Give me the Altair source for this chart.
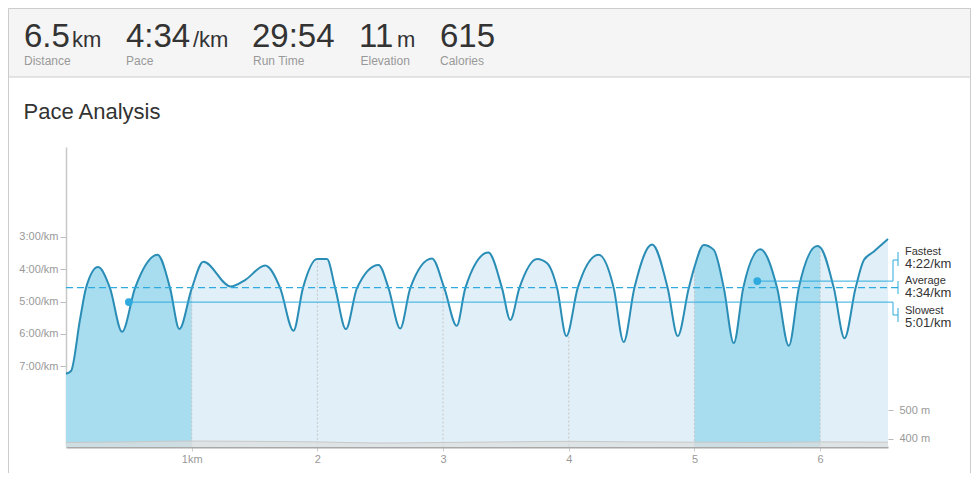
import altair as alt
import pandas as pd

# ---------------- data ----------------
# pace profile: distance (km) and pace (seconds per km)
dist_km = [0, 0.04, 0.111, 0.159, 0.255, 0.35, 0.446, 0.549, 0.728, 0.828, 0.902, 1.0,
           1.093, 1.311, 1.425, 1.584, 1.704, 1.81, 1.885, 1.998, 2.076, 2.142, 2.227,
           2.315, 2.487, 2.566, 2.659, 2.739, 2.912, 3.01, 3.109, 3.177, 3.36, 3.469,
           3.535, 3.607, 3.748, 3.828, 3.907, 3.981, 4.071, 4.238, 4.358, 4.437, 4.522,
           4.663, 4.787, 4.867, 4.955, 5.0, 5.074, 5.154, 5.234, 5.313, 5.388, 5.525,
           5.658, 5.751, 5.83, 5.977, 6.0, 6.109, 6.194, 6.282, 6.348, 6.428, 6.54]
pace_s = [434, 429, 334, 275, 236, 275, 356, 275, 213, 275, 351, 276,
          226, 272, 260, 233, 275, 354, 275, 221, 221, 275, 351,
          275, 232, 275, 350, 275, 220, 275, 345, 275, 209, 275,
          334, 275, 221, 229, 275, 364, 275, 213, 275, 375, 275,
          194, 275, 364, 275, 236, 195, 204, 275, 377, 275, 203,
          275, 382, 275, 197, 199, 275, 368, 275, 223, 207, 184]

# elevation profile (m)
elev_km = [0, 0.5, 1, 1.5, 2, 2.5, 3, 3.5, 4, 4.5, 5, 5.5, 6, 6.54]
elev_m = [388, 390, 393, 392, 390, 386, 388, 390, 392, 390, 389, 388, 390, 389]

# highlighted km splits (slowest = km 1, fastest = km 6)
hi_start = [0, 5]
hi_end = [1, 6]

# km markers and pace at each marker
grid_km = [1, 2, 3, 4, 5, 6]
grid_pace = [276, 226, 270, 365, 236, 199]

# summary pace lines
stat_names = ["Fastest", "Average", "Slowest"]
stat_pace = [262, 274, 301]
stat_km = [5.5, 0.0, 0.5]

# header
header_values = ["6.5", "4:34", "29:54", "11", "615"]
header_units = ["km", "/km", "", "m", ""]
header_labels = ["Distance", "Pace", "Run Time", "Elevation", "Calories"]
title_text = "Pace Analysis"

# ---------------- style / layout ----------------
FONT = "Liberation Sans, Arial, Helvetica, sans-serif"
W, H = 822, 300
LIGHT = "#e1f0f8"
DARK = "#a8dcef"
LINE = "#2a8db6"
ACCENT = "#2eaade"
TXT = "#333333"
GREY_TXT = "#999999"
PACE_MIN, PACE_MAX = 13, 570
ELEV_MIN, ELEV_MAX = 372.4, 1407

hx_val = [-42, 60, 186, 293, 374]
hx_unit = [6, 127, None, 331, None]
hx_lab = [-42, 60, 187, 294.5, 374]

df = pd.DataFrame({"km": dist_km, "pace": pace_s})
df_elev = pd.DataFrame({"km": elev_km, "elev": elev_m})
df_grid = pd.DataFrame({"km": grid_km, "pace": grid_pace})
df_stat = pd.DataFrame({"name": stat_names, "pace": stat_pace, "km": stat_km})
one = pd.DataFrame({"a": [0]})

x_scale = alt.Scale(domain=[0, 6.54], nice=False, zero=False)
y_scale = alt.Scale(domain=[PACE_MIN, PACE_MAX], reverse=True, nice=False, zero=False)
e_scale = alt.Scale(domain=[ELEV_MIN, ELEV_MAX], nice=False, zero=False)

x_axis = alt.Axis(values=grid_km, labelExpr="datum.value == 1 ? '1km' : datum.label",
                  title=None, grid=False, tickSize=4, tickColor="#cccccc",
                  domainColor="#a8a8a8", domainWidth=2, labelColor=GREY_TXT,
                  labelFontSize=11, labelPadding=2, labelFont=FONT)
y_axis = alt.Axis(values=[180, 240, 300, 360, 420],
                  labelExpr="floor(datum.value/60) + ':' + (datum.value % 60 < 10 ? '0' : '') + (datum.value % 60) + '/km'",
                  title=None, grid=False, tickSize=6, tickColor="#bbbbbb",
                  domainColor="#c8c8c8", domainWidth=1.5, labelColor=GREY_TXT,
                  labelFontSize=11, labelPadding=2, labelFont=FONT)
e_axis = alt.Axis(orient="right", values=[400, 500], labelExpr="datum.value + ' m'",
                  title=None, grid=False, domain=False, tickSize=5, tickColor="#bbbbbb",
                  labelColor=GREY_TXT, labelFontSize=11, labelPadding=6, labelFont=FONT)

X = alt.X("km:Q", scale=x_scale, axis=x_axis)
Y = alt.Y("pace:Q", scale=y_scale, axis=y_axis)
Y_BASE = alt.Y2(datum=PACE_MAX)

layers = []

# header band and card borders
layers.append(alt.Chart(one).mark_rect(fill="#f5f5f5", stroke="#cccccc", strokeWidth=1).encode(
    x=alt.value(-57.5), x2=alt.value(904.5), y=alt.value(-138.5), y2=alt.value(-70)))
for bx in [-57.5, 904.5]:
    layers.append(alt.Chart(one).mark_rule(color="#cccccc", strokeWidth=1).encode(
        x=alt.value(bx), y=alt.value(-70), y2=alt.value(326)))

for i in range(len(header_values)):
    layers.append(alt.Chart(one).mark_text(text=header_values[i], font=FONT, fontSize=33,
                                           color=TXT, align="left", baseline="alphabetic").encode(
        x=alt.value(hx_val[i]), y=alt.value(-100.3)))
    if header_units[i]:
        layers.append(alt.Chart(one).mark_text(text=header_units[i], font=FONT, fontSize=22,
                                               color=TXT, align="left", baseline="alphabetic").encode(
            x=alt.value(hx_unit[i]), y=alt.value(-100.3)))
    layers.append(alt.Chart(one).mark_text(text=header_labels[i], font=FONT, fontSize=12,
                                           color=GREY_TXT, align="left", baseline="alphabetic").encode(
        x=alt.value(hx_lab[i]), y=alt.value(-82)))

layers.append(alt.Chart(one).mark_text(text=title_text, font=FONT, fontSize=22, color=TXT,
                                       align="left", baseline="alphabetic").encode(
    x=alt.value(-42.5), y=alt.value(-27.7)))

# pace fills
layers.append(alt.Chart(df).mark_area(color=LIGHT, interpolate="monotone").encode(
    x=X, y=Y, y2=Y_BASE))
for s, e in zip(hi_start, hi_end):
    layers.append(alt.Chart(df).transform_filter(
        (alt.datum.km >= s) & (alt.datum.km <= e)).mark_area(
        color=DARK, interpolate="monotone").encode(x=X, y=Y, y2=Y_BASE))

# km markers
layers.append(alt.Chart(df_grid).mark_rule(color="#c4c4c4", strokeDash=[2, 2], strokeWidth=1).encode(
    x=X, y=Y, y2=Y_BASE))

# pace line
layers.append(alt.Chart(df).mark_line(color=LINE, strokeWidth=2, interpolate="monotone").encode(
    x=X, y=Y))

# fastest / slowest lines
layers.append(alt.Chart(df_stat).transform_filter(alt.datum.name != "Average").mark_rule(
    color=ACCENT, strokeWidth=1).encode(x=X, x2=alt.value(827), y=Y))
layers.append(alt.Chart(df_stat).transform_filter(alt.datum.name == "Average").mark_rule(
    color=ACCENT, strokeWidth=1.3, strokeDash=[7, 4]).encode(x=X, x2=alt.value(832), y=Y))
# brackets
layers.append(alt.Chart(df_stat).transform_filter(alt.datum.name == "Fastest").mark_rule(
    color=ACCENT, strokeWidth=1).encode(x=alt.value(827), y=Y, y2=alt.value(113)))
layers.append(alt.Chart(df_stat).transform_filter(alt.datum.name == "Slowest").mark_rule(
    color=ACCENT, strokeWidth=1).encode(x=alt.value(827), y=Y, y2=alt.value(168)))
for sy in [113, 168]:
    layers.append(alt.Chart(one).mark_rule(color=ACCENT, strokeWidth=1).encode(
        x=alt.value(827), x2=alt.value(832), y=alt.value(sy)))
for t0, t1 in [(105, 119), (134, 147), (161, 175)]:
    layers.append(alt.Chart(one).mark_rule(color=ACCENT, strokeWidth=1).encode(
        x=alt.value(832), y=alt.value(t0), y2=alt.value(t1)))

# dots
layers.append(alt.Chart(df_stat).transform_filter(alt.datum.name != "Average").mark_circle(
    size=60, color=ACCENT, opacity=1).encode(x=X, y=Y))

# annotation labels
name_y = [108, 137, 167]
val_y = [121, 150, 180]
for i, nm in enumerate(stat_names):
    p = stat_pace[i]
    layers.append(alt.Chart(one).mark_text(text=nm, font=FONT, fontSize=11, color=TXT,
                                           align="left", baseline="alphabetic").encode(
        x=alt.value(839), y=alt.value(name_y[i])))
    layers.append(alt.Chart(one).mark_text(text=f"{p // 60}:{p % 60:02d}/km", font=FONT,
                                           fontSize=13, color=TXT, align="left",
                                           baseline="alphabetic").encode(
        x=alt.value(839), y=alt.value(val_y[i])))

pace_layer = alt.layer(*layers)

elev_layer = alt.Chart(df_elev).mark_area(
    color="#dddddd", interpolate="monotone",
    line={"color": "#c8c8c8", "strokeWidth": 1}).encode(
    x=X, y=alt.Y("elev:Q", scale=e_scale, axis=e_axis), y2=alt.Y2(datum=ELEV_MIN))

chart = alt.layer(pace_layer, elev_layer).resolve_scale(y="independent").properties(
    width=W, height=H,
    padding={"left": 58, "top": 139, "right": 83, "bottom": 26},
    autosize=alt.AutoSizeParams(type="none"),
    background="white",
).configure_view(stroke=None)

chart.save("out.html", embed_options={"renderer": "svg", "actions": False})
